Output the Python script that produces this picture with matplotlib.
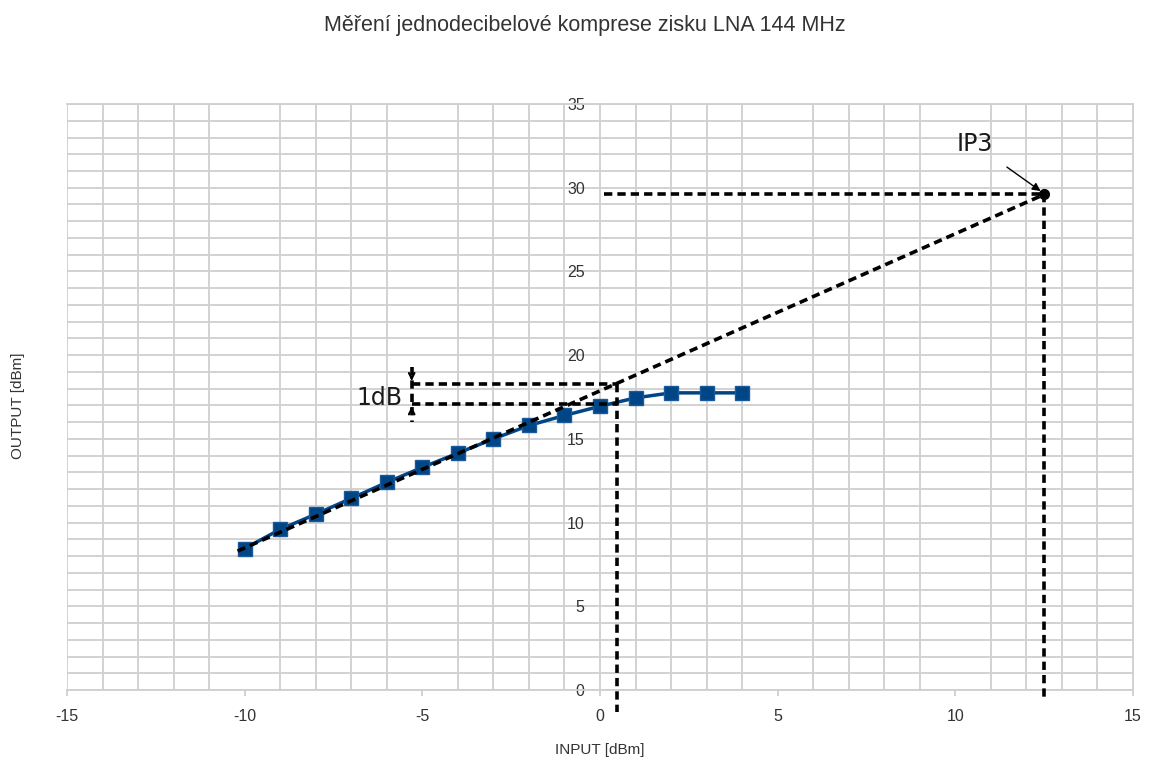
import matplotlib
matplotlib.use('Agg')
import matplotlib.pyplot as plt
from matplotlib.ticker import FixedLocator, MultipleLocator

plt.rcParams['font.family'] = ['Liberation Sans', 'DejaVu Sans']
plt.rcParams['axes.unicode_minus'] = False

# naměřené hodnoty
vstup = [-10, -9, -8, -7, -6, -5, -4, -3, -2, -1, 0, 1, 2, 3, 4]
vystup = [8.45, 9.6, 10.5, 11.45, 12.4, 13.3, 14.15, 15.0, 15.8, 16.4,
          16.95, 17.45, 17.75, 17.75, 17.75]

# konstrukční body (extrapolace, 1 dB bod, IP3)
lin_start = (-10.2, 8.3)
ip3 = (12.5, 29.6)
p1db_x = 0.48
p1db_hi = 18.3
p1db_lo = 17.1
dB_marker_x = -5.3

grid_c = '#cfcfcf'
text_c = '#333333'

fig = plt.figure(figsize=(11.52, 7.65), dpi=100)
ax = fig.add_axes([0.0582, 0.098, 0.9253, 0.766])

ax.set_xlim(-15, 15)
ax.set_ylim(0, 35)

# mřížka
ax.xaxis.set_major_locator(MultipleLocator(5))
ax.xaxis.set_minor_locator(FixedLocator([v for v in range(-14, 15) if v % 5 != 0]))
ax.yaxis.set_major_locator(MultipleLocator(5))
ax.yaxis.set_minor_locator(MultipleLocator(1))
ax.grid(which='minor', axis='x', color=grid_c, lw=1.3)
ax.grid(which='both', axis='y', color=grid_c, lw=1.3)
ax.axvline(-15, color=grid_c, lw=1.3, zorder=0.5)
ax.set_axisbelow(True)

ax.spines['left'].set_position(('data', 0))
for s in ax.spines.values():
    s.set_color(grid_c)
    s.set_linewidth(1.3)

ax.tick_params(axis='x', which='major', length=4, color=grid_c, width=1.3,
               labelsize=11.5, labelcolor=text_c, pad=10)
ax.tick_params(axis='y', which='major', length=0, labelsize=11.5,
               labelcolor=text_c, pad=11)
ax.tick_params(which='minor', length=0)

# naměřená křivka
ax.plot(vstup, vystup, color='#004586', lw=2.5, marker='s', markersize=9.5,
        markeredgecolor='#1a5a9a', markeredgewidth=1, zorder=3)

dash = dict(color='black', lw=2.6, dashes=(2.3, 1.4), zorder=4)

# lineární extrapolace do IP3
ax.plot([lin_start[0], ip3[0]], [lin_start[1], ip3[1]], **dash)
ax.plot([0.1, ip3[0]], [ip3[1], ip3[1]], **dash)
ax.plot([ip3[0], ip3[0]], [ip3[1], -0.4], clip_on=False, **dash)
ax.plot([ip3[0]], [ip3[1]], 'o', color='black', markersize=7, zorder=5)

# 1 dB komprese
ax.plot([dB_marker_x, p1db_x], [p1db_hi, p1db_hi], **dash)
ax.plot([dB_marker_x, p1db_x], [p1db_lo, p1db_lo], **dash)
ax.plot([p1db_x, p1db_x], [p1db_hi, -1.3], clip_on=False, **dash)
ax.plot([dB_marker_x, dB_marker_x], [19.3, 16.0], **dash)
ax.annotate('', xy=(dB_marker_x, p1db_hi), xytext=(dB_marker_x, 18.9),
            arrowprops=dict(arrowstyle='->', color='black', lw=1.5), zorder=5)
ax.annotate('', xy=(dB_marker_x, p1db_lo), xytext=(dB_marker_x, 16.5),
            arrowprops=dict(arrowstyle='->', color='black', lw=1.5), zorder=5)
ax.text(-5.55, 17.45, '1dB', ha='right', va='center', fontsize=17,
        family='DejaVu Sans', color='#1a1a1a')

ax.annotate('IP3', xy=(ip3[0] - 0.1, ip3[1] + 0.2), xytext=(10.55, 32.6),
            ha='center', va='center', fontsize=17, family='DejaVu Sans',
            color='#1a1a1a',
            arrowprops=dict(arrowstyle='-|>', color='black', lw=1,
                            mutation_scale=12, shrinkA=10, shrinkB=0))

fig.text(0.508, 0.967, 'Měření jednodecibelové komprese zisku LNA 144 MHz',
         ha='center', va='center', fontsize=15.5, color=text_c)
fig.text(0.521, 0.02, 'INPUT [dBm]', ha='center', va='center',
         fontsize=11, color=text_c)
fig.text(0.016, 0.47, 'OUTPUT [dBm]', ha='center', va='center',
         rotation=90, fontsize=11, color=text_c)

fig.savefig('out.png', dpi=100)
